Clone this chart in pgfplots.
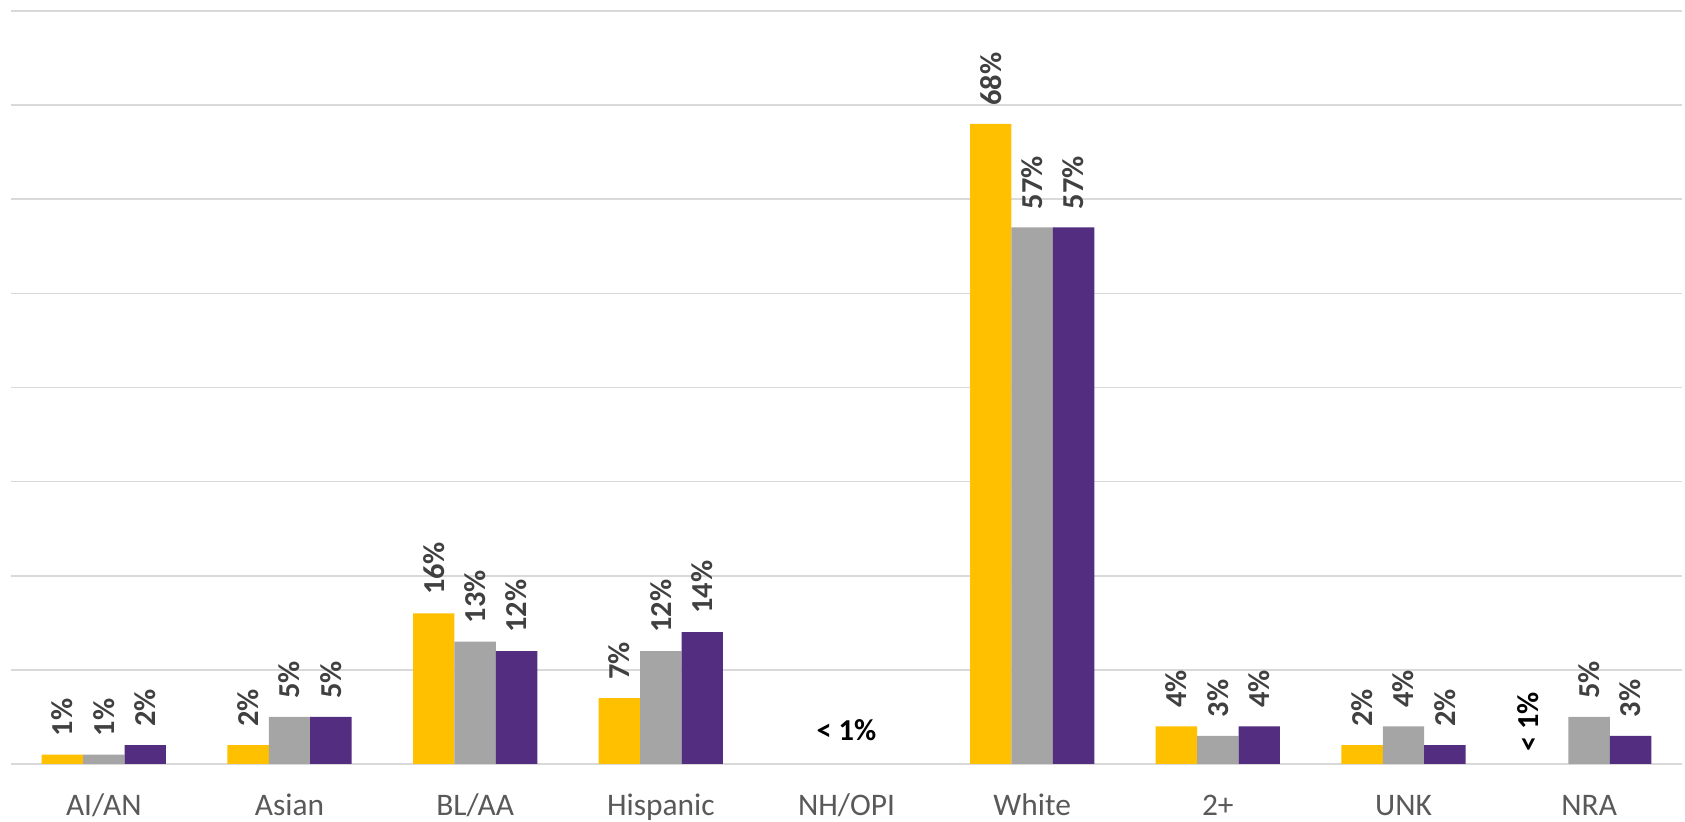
\documentclass[border=0pt]{standalone}
\usepackage{fontspec}
\setmainfont{Carlito}
\usepackage{pgfplots}
\pgfplotsset{compat=1.18}
\definecolor{barGold}{HTML}{FFC000}
\definecolor{barGray}{HTML}{A5A5A5}
\definecolor{barPurple}{HTML}{522D80}
\definecolor{gridGray}{HTML}{D9D9D9}
\definecolor{valGray}{HTML}{404040}
\definecolor{tickGray}{HTML}{595959}
\newcommand{\valfont}{\bfseries\fontsize{15.2}{18}\selectfont}
\begin{document}
\begin{tikzpicture}
% fixed page frame around the plot area
\useasboundingbox (-5.5pt,-29pt) rectangle (837pt,382pt);
\begin{axis}[
  scale only axis,
  width=835.5pt, height=376.5pt,
  xmin=-0.5, xmax=8.5, ymin=0, ymax=80,
  ybar=0pt, bar width=20.7pt,
  xtick={0,...,8},
  xticklabels={AI/AN,Asian,BL/AA,Hispanic,NH/OPI,White,2+,UNK,NRA},
  xticklabel style={font=\fontsize{15.7}{18}\selectfont, text=tickGray, anchor=base, yshift=-26pt},
  ytick={0,10,...,80}, yticklabels={},
  ymajorgrids, grid style={gridGray, line width=0.8pt},
  major tick length=0pt,
  axis line style={draw=none},
  /pgf/number format/assume math mode=true,
  nodes near coords={\pgfmathprintnumber{\pgfplotspointmeta}\%},
  nodes near coords style={rotate=90, anchor=west, inner xsep=9pt, inner ysep=0pt,
    font=\valfont, text=valGray},
  clip=false,
]
\addplot[fill=barGold, draw=none] coordinates {(0,1)(1,2)(2,16)(3,7)(5,68)(6,4)(7,2)};
\addplot[fill=barGray, draw=none] coordinates {(0,1)(1,5)(2,13)(3,12)(5,57)(6,3)(7,4)(8,5)};
\addplot[fill=barPurple, draw=none] coordinates {(0,2)(1,5)(2,12)(3,14)(5,57)(6,4)(7,2)(8,3)};
\node[font=\valfont, text=black] at (axis cs:4,3.6) {< 1\%};
\node[font=\valfont, text=black, rotate=90, anchor=west, inner sep=0pt]
  at ([yshift=6pt]axis cs:7.67,0) {< 1\%};
\end{axis}
\end{tikzpicture}
\end{document}
